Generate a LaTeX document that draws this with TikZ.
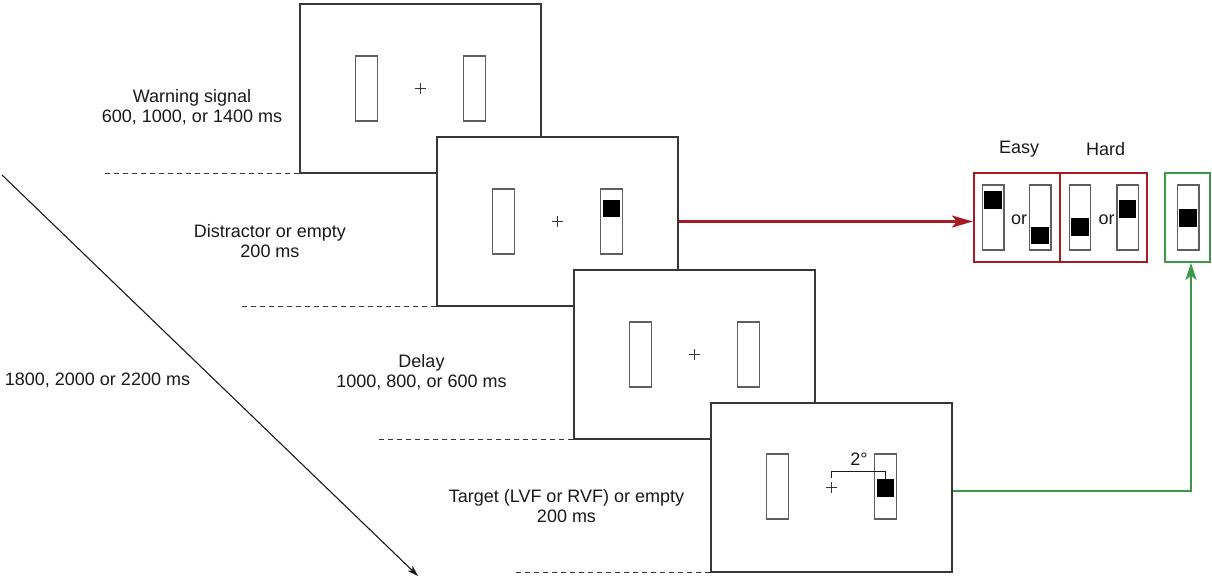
\documentclass[tikz,border=0pt]{standalone}
\usepackage{fontspec}
\setmainfont{Liberation Sans}
\usetikzlibrary{arrows.meta}
\definecolor{darkred}{RGB}{168,26,34}
\definecolor{mygreen}{RGB}{60,152,72}
\definecolor{panelgray}{RGB}{55,55,55}
\definecolor{bargray}{RGB}{95,95,95}
\definecolor{txt}{RGB}{25,25,25}
\begin{document}
\begin{tikzpicture}[x=1pt,y=-1pt,
  font=\fontsize{18}{20}\selectfont,
  panel/.style={draw=panelgray, fill=white, line width=1.2pt, minimum width=241pt, minimum height=169pt, inner sep=0pt},
  bar/.style={draw=bargray, fill=white, line width=1.1pt, minimum width=21.5pt, minimum height=65pt, inner sep=0pt},
  blob/.style={fill=black, minimum size=17.5pt, inner sep=0pt},
  cbox/.style={line width=2.2pt, minimum height=88.4pt, inner sep=0pt},
  lbl/.style={align=center, text=txt, inner sep=0pt},
  dashline/.style={draw=panelgray, line width=0.9pt, dash pattern=on 5pt off 4pt},
  fix/.pic={\draw[line width=0.8pt, draw=panelgray] (-5.5,0)--(5.5,0) (0,-5.5)--(0,5.5);}
]
\useasboundingbox (0,0) rectangle (1212,579);
\fill[white] (0,0) rectangle (1212,579);

% panel 1
\node[panel] (p1) at (420.5,88.5) {};
\node[bar] (p1l) at (366.5,88.5) {};
\node[bar] (p1r) at (474.5,88.5) {};
\pic at (p1.center) {fix};
% panel 2
\node[panel] (p2) at (557.5,221.5) {};
\node[bar] (p2l) at (503.5,221.5) {};
\node[bar] (p2r) at (611.5,221.5) {};
\node[blob] (p2b) at (611.5,208.3) {};
\pic at (p2.center) {fix};
% panel 3
\node[panel] (p3) at (694.5,354.5) {};
\node[bar] (p3l) at (640.5,354.5) {};
\node[bar] (p3r) at (748.5,354.5) {};
\pic at (p3.center) {fix};
% panel 4
\node[panel] (p4) at (831.5,487.5) {};
\node[bar] (p4l) at (777.5,486.5) {};
\node[bar] (p4r) at (885.5,486.5) {};
\node[blob] (p4b) at (885.5,488) {};
\pic at (p4.center) {fix};
\coordinate (br) at (831.5,478);
\draw[line width=1pt, draw=txt] (br) -- (831.5,471.3) -| (p4b.north);
\node[lbl] (deg) at (859,459) {2°};

% dashed lines
\draw[dashline] (p1.south west) -- ++(-195,0);
\draw[dashline] (p2.south west) -- ++(-195,0);
\draw[dashline] (p3.south west) -- ++(-195,0);
\draw[dashline] (p4.south west) -- ++(-195,0);

% labels
\node[lbl] (lw) at (192,107) {Warning signal\\600, 1000, or 1400 ms};
\node[lbl] (ld) at (270,241.5) {Distractor or empty\\200 ms};
\node[lbl] (ly) at (421.5,372.5) {Delay\\1000, 800, or 600 ms};
\node[lbl] (lt) at (566.5,506.5) {Target (LVF or RVF) or empty\\200 ms};
\node[lbl] (lo) at (97.5,380.7) {1800, 2000 or 2200 ms};

% time arrow
\coordinate (ts) at (2,175);
\coordinate (te) at (418,576);
\draw[line width=1.1pt, draw=txt, -{Stealth[length=11pt,width=7pt,inset=3pt]}] (ts) -- (te);

% response boxes
\node[cbox, draw=darkred, minimum width=86pt] (easy) at (1017,217.5) {};
\node[cbox, draw=darkred, minimum width=87.3pt] (hard) at (1103.7,217.5) {};
\node[cbox, draw=mygreen, minimum width=45pt] (green) at (1187.5,217.5) {};
\node[lbl] (le) at (1019,149.3) {Easy};
\node[lbl] (lh) at (1105.7,149.3) {Hard};

\node[bar] (e1) at (993.2,217.5) {};
\node[blob] at (993.2,200) {};
\node[bar] (e2) at (1040.2,217.5) {};
\node[blob] at (1040.2,235.7) {};
\node[lbl] (or1) at (1019,220) {or};
\node[bar] (h1) at (1079.8,217.5) {};
\node[blob] at (1079.8,227) {};
\node[bar] (h2) at (1127.7,217.5) {};
\node[blob] at (1127.7,209) {};
\node[lbl] (or2) at (1106.7,220) {or};
\node[bar] (g1) at (1188.2,217.5) {};
\node[blob] at (1188.2,218.2) {};

% connectors
\draw[darkred, line width=2.3pt, -{Stealth[length=21pt,width=12pt,inset=5pt]}] (p2.east) -- (p2.east -| easy.west);
\draw[mygreen, line width=2.3pt, -{Stealth[length=17pt,width=11pt,inset=4pt]}] ([yshift=-3.5pt]p4.east) -| ([xshift=3.5pt]green.south);
\end{tikzpicture}
\end{document}
